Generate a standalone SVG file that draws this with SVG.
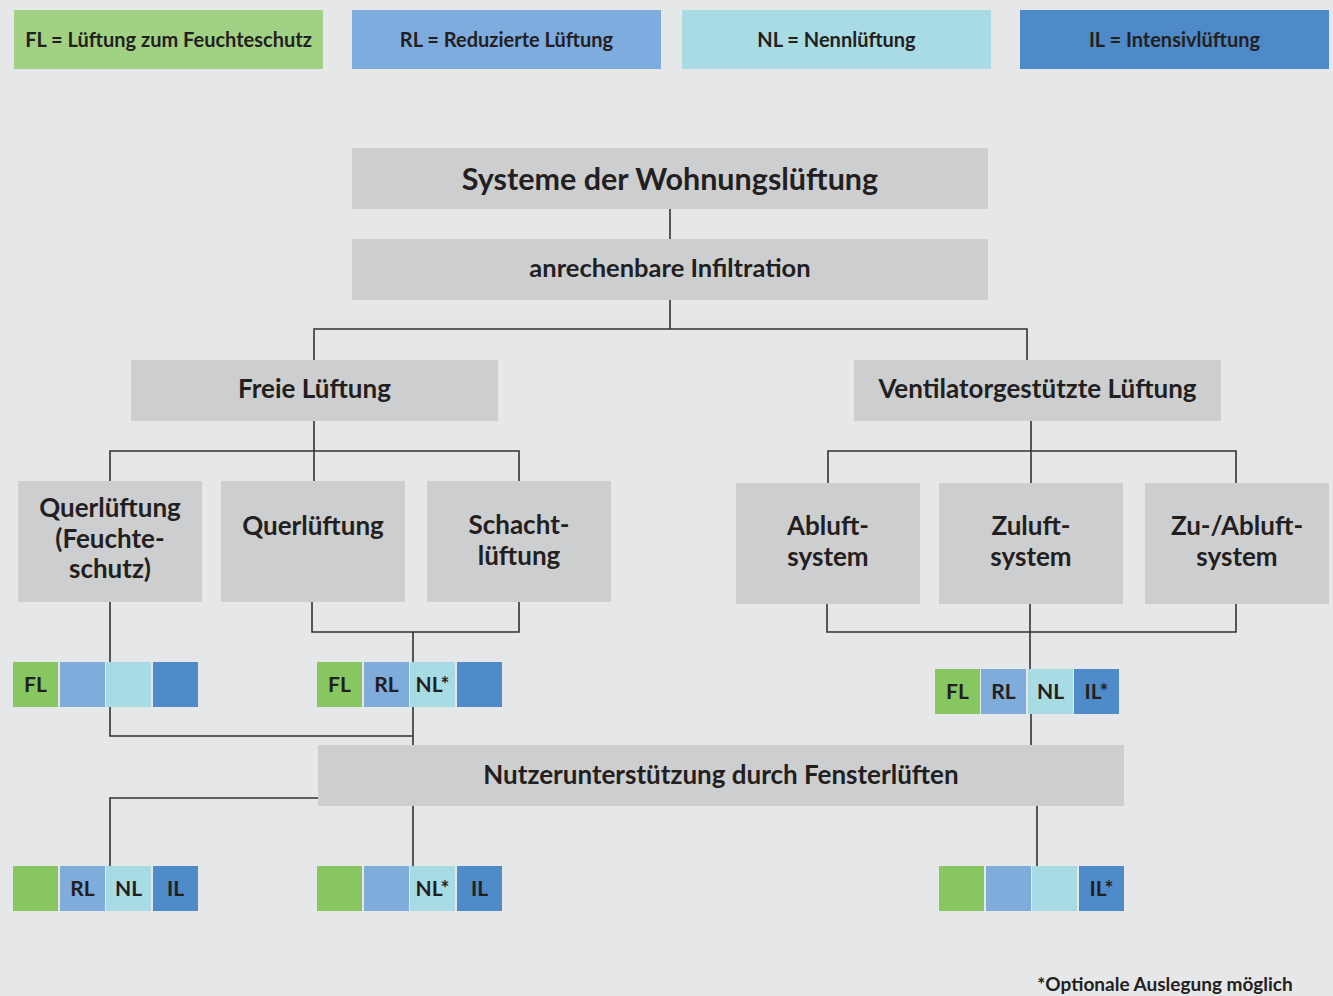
<svg xmlns="http://www.w3.org/2000/svg" width="1333" height="996" viewBox="0 0 1333 996">
<style>
.bg{fill:#e6e7e9}
.box{fill:#cdced0}
.t{font-family:Lato,"Open Sans","Liberation Sans",sans-serif;font-weight:bold;fill:#231f20;text-anchor:middle}
.leg{font-size:20px}
.h1{font-size:30.5px}
.h2{font-size:25.5px}
.h3{font-size:26px}
.sq{font-size:21px;text-anchor:middle}
.g1{fill:#a1d283}
.b1{fill:#7eacde}
.c1{fill:#a8dbe4}
.d1{fill:#4e8ac8}
.g{fill:#88c661}
.b{fill:#80acdc}
.c{fill:#a8dbe4}
.d{fill:#4f8ac9}
.ln{fill:none;stroke:#333335;stroke-width:1.6}
</style>
<rect class="bg" x="0" y="0" width="1333" height="996"/>

<g id="legend">
<g id="leg-fl"><rect class="g1" x="14" y="10" width="309" height="59"/><text class="t leg" x="168.5" y="47">FL = Lüftung zum Feuchteschutz</text></g>
<g id="leg-rl"><rect class="b1" x="352" y="10" width="309" height="59"/><text class="t leg" x="506.5" y="47">RL = Reduzierte Lüftung</text></g>
<g id="leg-nl"><rect class="c1" x="682" y="10" width="309" height="59"/><text class="t leg" x="836.5" y="47">NL = Nennlüftung</text></g>
<g id="leg-il"><rect class="d1" x="1020" y="10" width="309" height="59"/><text class="t leg" x="1174.5" y="47">IL = Intensivlüftung</text></g>
</g>

<g id="connectors">
<path class="ln" d="M670 209V239"/>
<path class="ln" d="M670 300V329M314 360V329H1027V360"/>
<path class="ln" d="M314 421V481M110 481V451H519V481"/>
<path class="ln" d="M1031 421V483M828 483V451H1236V483"/>
<path class="ln" d="M110 602V662M110 707V736H413"/>
<path class="ln" d="M312 602V632H519V602M413 632V662M413 707V745"/>
<path class="ln" d="M827 604V632H1236V604M1030 604V669M1031 714V745"/>
<path class="ln" d="M318 798H110V866M413 806V866M1037 806V866"/>
</g>

<g id="n-systeme"><rect class="box" x="352" y="148" width="636" height="61"/><text class="t h1" x="670" y="190">Systeme der Wohnungslüftung</text></g>
<g id="n-infiltration"><rect class="box" x="352" y="239" width="636" height="61"/><text class="t h2" x="670" y="277">anrechenbare Infiltration</text></g>
<g id="n-freie"><rect class="box" x="131" y="360" width="367" height="61"/><text class="t h3" x="314.5" y="398">Freie Lüftung</text></g>
<g id="n-ventilator"><rect class="box" x="854" y="360" width="367" height="61"/><text class="t h3" x="1037.5" y="398">Ventilatorgestützte Lüftung</text></g>

<g id="n-querfeuchte"><rect class="box" x="18" y="481" width="184" height="121"/><text class="t h3" x="110" y="517">Querlüftung</text><text class="t h3" x="110" y="548">(Feuchte-</text><text class="t h3" x="110" y="578">schutz)</text></g>
<g id="n-quer"><rect class="box" x="221" y="481" width="184" height="121"/><text class="t h3" x="313" y="535">Querlüftung</text></g>
<g id="n-schacht"><rect class="box" x="427" y="481" width="184" height="121"/><text class="t h3" x="519" y="534">Schacht-</text><text class="t h3" x="519" y="565">lüftung</text></g>

<g id="n-abluft"><rect class="box" x="736" y="483" width="184" height="121"/><text class="t h3" x="828" y="535">Abluft-</text><text class="t h3" x="828" y="566">system</text></g>
<g id="n-zuluft"><rect class="box" x="939" y="483" width="184" height="121"/><text class="t h3" x="1031" y="535">Zuluft-</text><text class="t h3" x="1031" y="566">system</text></g>
<g id="n-zuabluft"><rect class="box" x="1145" y="483" width="184" height="121"/><text class="t h3" x="1237" y="535">Zu-/Abluft-</text><text class="t h3" x="1237" y="566">system</text></g>

<g id="n-nutzer"><rect class="box" x="318" y="745" width="806" height="61"/><text class="t h3" x="721" y="784">Nutzerunterstützung durch Fensterlüften</text></g>

<g id="sq-1">
<rect class="g" x="13" y="662" width="45" height="45"/><rect class="b" x="60" y="662" width="45" height="45"/><rect class="c" x="106" y="662" width="45" height="45"/><rect class="d" x="153" y="662" width="45" height="45"/>
<text class="t sq" x="35.5" y="692">FL</text>
</g>
<g id="sq-2">
<rect class="g" x="317" y="662" width="45" height="45"/><rect class="b" x="364" y="662" width="45" height="45"/><rect class="c" x="410" y="662" width="45" height="45"/><rect class="d" x="457" y="662" width="45" height="45"/>
<text class="t sq" x="339.5" y="692">FL</text><text class="t sq" x="386.5" y="692">RL</text><text class="t sq" x="432.5" y="692">NL*</text>
</g>
<g id="sq-3">
<rect class="g" x="935" y="669" width="45" height="45"/><rect class="b" x="981" y="669" width="45" height="45"/><rect class="c" x="1028" y="669" width="45" height="45"/><rect class="d" x="1074" y="669" width="45" height="45"/>
<text class="t sq" x="957.5" y="699">FL</text><text class="t sq" x="1003.5" y="699">RL</text><text class="t sq" x="1050.5" y="699">NL</text><text class="t sq" x="1096.5" y="699">IL*</text>
</g>
<g id="sq-4">
<rect class="g" x="13" y="866" width="45" height="45"/><rect class="b" x="60" y="866" width="45" height="45"/><rect class="c" x="106" y="866" width="45" height="45"/><rect class="d" x="153" y="866" width="45" height="45"/>
<text class="t sq" x="82.5" y="896">RL</text><text class="t sq" x="128.5" y="896">NL</text><text class="t sq" x="175.5" y="896">IL</text>
</g>
<g id="sq-5">
<rect class="g" x="317" y="866" width="45" height="45"/><rect class="b" x="364" y="866" width="45" height="45"/><rect class="c" x="410" y="866" width="45" height="45"/><rect class="d" x="457" y="866" width="45" height="45"/>
<text class="t sq" x="432.5" y="896">NL*</text><text class="t sq" x="479.5" y="896">IL</text>
</g>
<g id="sq-6">
<rect class="g" x="939" y="866" width="45" height="45"/><rect class="b" x="986" y="866" width="45" height="45"/><rect class="c" x="1032" y="866" width="45" height="45"/><rect class="d" x="1079" y="866" width="45" height="45"/>
<text class="t sq" x="1101.5" y="896">IL*</text>
</g>

<text class="t" x="1165" y="991" style="font-size:19px">*Optionale Auslegung möglich</text>
</svg>
